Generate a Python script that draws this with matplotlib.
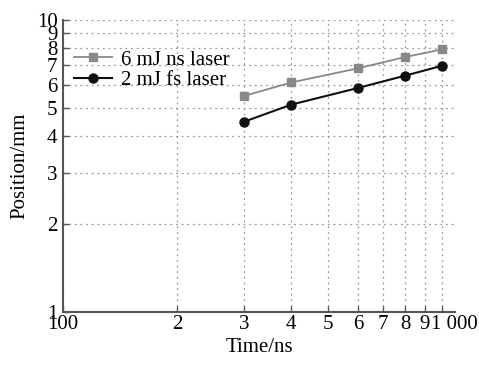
import matplotlib
matplotlib.use("Agg")
import matplotlib.pyplot as plt
import matplotlib.transforms as mtransforms
from matplotlib.ticker import FixedLocator, FixedFormatter, NullLocator

plt.rcParams['font.family'] = ['Liberation Serif', 'DejaVu Serif']

time_ns = [300, 400, 600, 800, 1000]
ns_laser = [5.49, 6.11, 6.83, 7.47, 7.93]
fs_laser = [4.48, 5.13, 5.85, 6.45, 6.97]

x_ticks = [100, 200, 300, 400, 500, 600, 700, 800, 900, 1000]
x_labels = ["100", "2", "3", "4", "5", "6", "7", "8", "9", "1 000"]
y_ticks = [1, 2, 3, 4, 5, 6, 7, 8, 9, 10]
y_labels = ["1", "2", "3", "4", "5", "6", "7", "8", "9", "10"]

FS = 15

fig = plt.figure(figsize=(4.79, 3.65), dpi=100)
ax = fig.add_axes([63/479, 53/365, (455-63)/479, (312-20)/365])

ax.plot(time_ns, ns_laser, color='#888888', marker='s', markersize=6, lw=1.3,
        label='6 mJ ns laser')
ax.plot(time_ns, fs_laser, color='#111111', marker='o', markersize=6.5, lw=1.5,
        label='2 mJ fs laser')

ax.set_xscale('log')
ax.set_yscale('log')
ax.set_xlim(100, 1082)
ax.set_ylim(1, 10)

ax.xaxis.set_major_locator(FixedLocator(x_ticks))
ax.xaxis.set_major_formatter(FixedFormatter(x_labels))
ax.xaxis.set_minor_locator(NullLocator())
ax.yaxis.set_major_locator(FixedLocator(y_ticks))
ax.yaxis.set_major_formatter(FixedFormatter(y_labels))
ax.yaxis.set_minor_locator(NullLocator())

ax.grid(True, which='major', linestyle=(0, (1.5, 3)), color='#999999', lw=0.9)

for s in ['top', 'right']:
    ax.spines[s].set_visible(False)
for s in ['left', 'bottom']:
    ax.spines[s].set_color('#555555')
    ax.spines[s].set_linewidth(1.5)

ax.tick_params(direction='in', length=4, width=1, color='#555555',
               labelsize=FS, pad=2)
ax.tick_params(axis='y', pad=4)

fig.canvas.draw()
# shift the "1 000" label so its leading "1" sits on the tick
lbl = ax.get_xticklabels()[-1]
lbl.set_transform(lbl.get_transform() +
                  mtransforms.ScaledTranslation(12/100, 0, fig.dpi_scale_trans))

ax.set_xlabel('Time/ns', fontsize=FS, labelpad=3)
ax.set_ylabel('Position/mm', fontsize=FS, labelpad=5)

leg = ax.legend(loc='upper left', frameon=False, fontsize=FS,
                bbox_to_anchor=(-0.005, 0.94), handlelength=1.85,
                handletextpad=0.45, labelspacing=0.05, borderaxespad=0.2)

fig.savefig('out.png', dpi=100)
